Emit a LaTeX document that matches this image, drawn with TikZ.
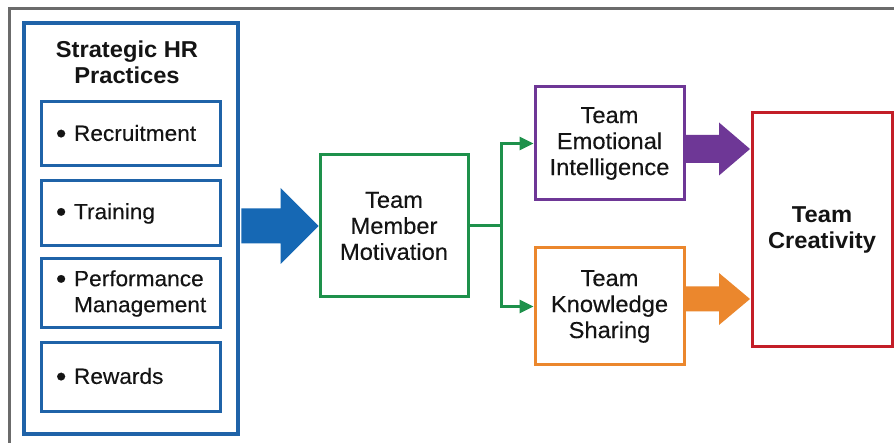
\documentclass[tikz,border=0pt]{standalone}
\usepackage{fontspec}
\setmainfont{Liberation Sans}[FakeStretch=1.03, UprightFeatures={FakeBold=0.3}]
\usetikzlibrary{arrows.meta,calc}

\definecolor{hrblue}{HTML}{1F63A8}
\definecolor{arrowblue}{HTML}{1668B4}
\definecolor{motgreen}{HTML}{1E914B}
\definecolor{eipurple}{HTML}{6E3796}
\definecolor{ksorange}{HTML}{EB872D}
\definecolor{crred}{HTML}{C31E28}
\definecolor{framegray}{HTML}{6B6B6B}
\definecolor{ink}{HTML}{141414}

% fat block arrow: colour, start, tip, half shaft, half head, head length
\newcommand\fatarrow[6]{%
  \fill[#1] ($(#2)+(0,#4)$) -- ($(#3)+(-#6,#4)$) -- ($(#3)+(-#6,#5)$) -- (#3)
    -- ($(#3)+(-#6,-#5)$) -- ($(#3)+(-#6,-#4)$) -- ($(#2)+(0,-#4)$) -- cycle;}
% list bullet with a fixed-width slot after it
\newcommand\hrbullet{\makebox[18pt][l]{\raisebox{-2.2pt}{\scalebox{1.3}{\textbullet}}}}
\newcommand\hrindent{\makebox[18pt]{}}

\begin{document}
\begin{tikzpicture}[x=1pt,y=-1pt,
  every node/.style={font=\fontsize{23}{26}\selectfont, text=ink},
  box/.style={draw, line width=3pt, inner sep=0pt, align=center},
  subbox/.style={draw=hrblue, line width=3pt, minimum width=179pt,
    text width=149pt, inner xsep=15pt, inner ysep=0pt, align=left,
    font=\fontsize{22}{26}\selectfont},
  link/.style={draw=motgreen, line width=3pt,
    -{Triangle[length=14pt,width=13pt]}},
  heading/.style={align=center, font=\fontsize{23}{26}\selectfont\bfseries}
]
\useasboundingbox (0,0) rectangle (894,443);
\fill[white] (0,0) rectangle (894,443);
\draw[framegray, line width=3pt] (9,460) -- (9,9) -- (910,9);

% strategic HR practices
\node[box, draw=hrblue, line width=3.5pt, minimum width=214pt, minimum height=411pt]
  (hr) at (131,228.5) {};
\node[heading] (hrtitle) at (127,62) {Strategic HR\\Practices};
\node[subbox, minimum height=64pt] (rec) at (130.5,134) {\hrbullet Recruitment};
\node[subbox, minimum height=65pt] (tra) at (130.5,213.5) {\hrbullet Training};
\node[subbox, minimum height=69pt] (perf) at (130.5,293.5)
  {\hrbullet Performance\\\hrindent Management};
\node[subbox, minimum height=68pt] (rew) at (130.5,377) {\hrbullet Rewards};

% mediators and outcome
\node[box, draw=motgreen, minimum width=148pt, minimum height=142pt]
  (mot) at (394,226) {Team\\Member\\Motivation};
\node[box, draw=eipurple, minimum width=149pt, minimum height=113pt]
  (emo) at (609.5,143.5) {Team\\Emotional\\Intelligence};
\node[box, draw=ksorange, minimum width=149pt, minimum height=117pt]
  (know) at (609.5,306.5) {Team\\Knowledge\\Sharing};
\node[box, draw=crred, minimum width=140pt, minimum height=234pt]
  (cre) at (822,230) {\bfseries Team\\\bfseries Creativity};

% block arrows
\coordinate (hrstart) at ($(mot.west -| hr.east)+(1.5,0)$);
\fatarrow{arrowblue}{hrstart}{mot.west}{17.5}{38}{38}
\coordinate (emotip) at (750,149);
\coordinate (emostart) at (emotip -| emo.east);
\fatarrow{eipurple}{emostart}{emotip}{14}{26.5}{31}
\coordinate (knowtip) at (750,299);
\coordinate (knowstart) at (knowtip -| know.east);
\fatarrow{ksorange}{knowstart}{knowtip}{12.5}{26}{31}

% split connector from motivation
\draw[motgreen, line width=3pt] (mot.east) -- ++(32,0) coordinate (split);
\draw[link] (split) |- (emo.west);
\draw[link] (split) |- (know.west);
\end{tikzpicture}
\end{document}
